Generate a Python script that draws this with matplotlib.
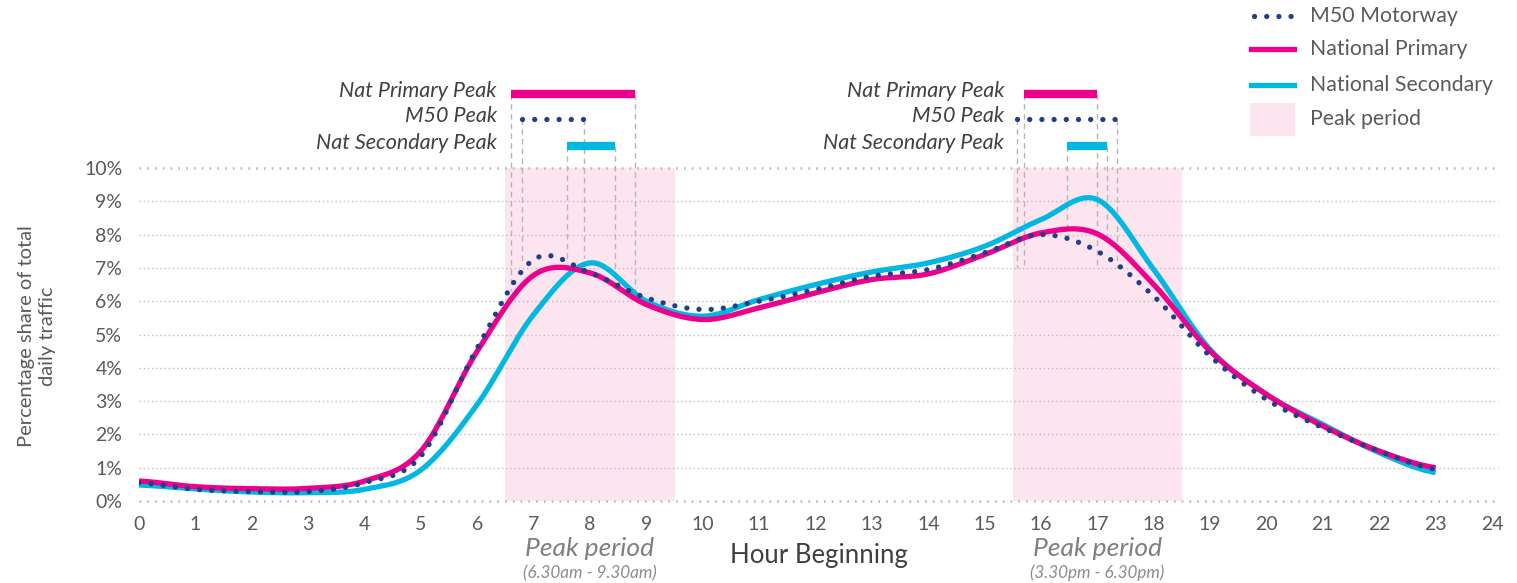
import numpy as np
import matplotlib
matplotlib.use("Agg")
import matplotlib.pyplot as plt
from matplotlib.lines import Line2D
from matplotlib.patches import Rectangle

plt.rcParams['font.family'] = ['Lato', 'DejaVu Sans']

# ---- data -------------------------------------------------------------
hours = list(range(24))

m50 = [0.55, 0.35, 0.28, 0.28, 0.55, 1.35, 4.60, 7.25, 6.85, 6.10, 5.75, 6.00,
       6.35, 6.75, 6.95, 7.45, 8.00, 7.50, 6.15, 4.35, 3.05, 2.20, 1.50, 0.95]
nat_primary = [0.60, 0.43, 0.37, 0.38, 0.60, 1.50, 4.50, 6.78, 6.85, 5.90, 5.45, 5.80,
               6.25, 6.65, 6.82, 7.40, 8.05, 8.02, 6.50, 4.50, 3.20, 2.25, 1.50, 1.00]
nat_secondary = [0.48, 0.36, 0.27, 0.25, 0.35, 0.93, 2.90, 5.60, 7.15, 6.00, 5.55, 6.05,
                 6.50, 6.88, 7.15, 7.65, 8.45, 9.05, 6.95, 4.55, 3.20, 2.30, 1.45, 0.85]

peak_periods = [(6.5, 9.5), (15.5, 18.5)]
peak_period_labels = ["(6.30am - 9.30am)", "(3.30pm - 6.30pm)"]

# peak windows per road class (start hour, end hour), morning and evening
primary_peaks = [(6.60, 8.80), (15.70, 17.00)]
m50_peaks = [(6.80, 7.90), (15.57, 17.34)]
secondary_peaks = [(7.60, 8.45), (16.47, 17.17)]

# lower ends of the guide lines under each peak window (% share)
primary_guides = [(6.3, 6.1), (7.0, 7.0)]
m50_guides = [(7.1, 7.3), (7.0, 7.0)]
secondary_guides = [(7.2, 6.4), (8.0, 8.0)]

peak_names = ["Nat Primary Peak", "M50 Peak", "Nat Secondary Peak"]

y_ticks = list(range(0, 11))
x_ticks = list(range(0, 25))

# ---- style ------------------------------------------------------------
PINK = "#EC008C"
CYAN = "#00B8E2"
NAVY = "#213F87"
SHADE = "#FCE5EF"
GRID = "#BDBDBD"
GUIDE = "#B5B5B5"
TXT = "#5A5A5A"
DARK = "#404040"


def catmull_rom(x, y, n=30):
    x = np.asarray(x, float)
    y = np.asarray(y, float)
    xs, ys = [], []
    for i in range(len(x) - 1):
        p0 = y[i - 1] if i > 0 else y[i]
        p1, p2 = y[i], y[i + 1]
        p3 = y[i + 2] if i + 2 < len(y) else y[i + 1]
        m1 = (p2 - p0) / 2.0
        m2 = (p3 - p1) / 2.0
        t = np.linspace(0, 1, n, endpoint=(i == len(x) - 2))
        h00 = 2 * t**3 - 3 * t**2 + 1
        h10 = t**3 - 2 * t**2 + t
        h01 = -2 * t**3 + 3 * t**2
        h11 = t**3 - t**2
        xs.append(x[i] + t * (x[i + 1] - x[i]))
        ys.append(h00 * p1 + h10 * m1 + h01 * p2 + h11 * m2)
    return np.concatenate(xs), np.concatenate(ys)


W, H = 1517, 583
fig = plt.figure(figsize=(W / 100, H / 100), dpi=100)
ax = fig.add_axes([139 / W, (H - 501) / H, 1353 / W, 333 / H])
ax.set_xlim(0, 24)
ax.set_ylim(0, 10)
for s in ax.spines.values():
    s.set_visible(False)

# peak period shading
for a, b in peak_periods:
    ax.axvspan(a, b, ymin=0, ymax=1, color=SHADE, lw=0, zorder=0)

# gridlines
for v in y_ticks:
    big = v in (0, 10)
    ax.hlines(v, 0, 24.1, colors=GRID, lw=2.0 if big else 1.0,
              linestyles=(0, (0.6, 2.2)) if big else (0, (1, 2)),
              zorder=1, clip_on=False)

ax.tick_params(length=0, labelsize=14, labelcolor=TXT)
ax.tick_params(axis='x', pad=11)
ax.tick_params(axis='y', pad=12)
ax.set_xticks(x_ticks)
ax.set_yticks(y_ticks)
ax.set_yticklabels([f"{v}%" for v in y_ticks])

# series
xs, ys = catmull_rom(hours, nat_secondary)
ax.plot(xs, ys, color=CYAN, lw=3.8, zorder=3, solid_capstyle='butt')
xs, ys = catmull_rom(hours, nat_primary)
ax.plot(xs, ys, color=PINK, lw=3.8, zorder=4, solid_capstyle='butt')
xs, ys = catmull_rom(hours, m50)
ax.plot(xs, ys, color=NAVY, lw=3.8, zorder=5,
        linestyle=(0, (0.01, 2.3)), dash_capstyle='round')

# peak window bars with guide lines
bar_y = [12.22, 11.47, 10.66]
series_peaks = [primary_peaks, m50_peaks, secondary_peaks]
series_guides = [primary_guides, m50_guides, secondary_guides]
label_right = [6.35, 15.35]
for k, (peaks, guides, yb) in enumerate(zip(series_peaks, series_guides, bar_y)):
    for (a, b), (ga, gb) in zip(peaks, guides):
        for xv, gv in ((a, ga), (b, gb)):
            ax.plot([xv, xv], [yb, gv], color=GUIDE, lw=1.0,
                    linestyle=(0, (4, 3)), zorder=2, clip_on=False)
        if k == 1:
            ax.plot([a, b], [yb, yb], color=NAVY, lw=3.8, zorder=6, clip_on=False,
                    linestyle=(0, (0.01, 2.3)), dash_capstyle='round')
        else:
            ax.plot([a, b], [yb, yb], color=PINK if k == 0 else CYAN, lw=6.0,
                    zorder=6, clip_on=False, solid_capstyle='butt')
    for xr in label_right:
        ax.text(xr, yb + 0.08, peak_names[k], ha='right', va='center',
                fontsize=15.5, style='italic', color=DARK, clip_on=False)

# axis titles
fig.text(819 / W, 1 - 556 / H, "Hour Beginning", ha='center', va='center',
         fontsize=18.5, color=DARK)
fig.text(37 / W, 1 - 336 / H, "Percentage share of total\ndaily traffic",
         ha='center', va='center', rotation=90, fontsize=14.5, color=TXT,
         linespacing=1.3)

# peak period captions
for (a, b), sub in zip(peak_periods, peak_period_labels):
    cx = (a + b) / 2
    xfig = (139 + cx * 1353 / 24) / W
    fig.text(xfig, 1 - 548 / H, "Peak period", ha='center', va='center',
             fontsize=19, style='italic', color="#7F7F7F")
    fig.text(xfig, 1 - 573 / H, sub, ha='center', va='center',
             fontsize=12.3, style='italic', color="#8C8C8C")

# legend
def fx(px):
    return px / W


def fy(py):
    return 1 - py / H


leg_items = [("M50 Motorway", 16), ("National Primary", 49),
             ("National Secondary", 85), ("Peak period", 119)]
fig.add_artist(Line2D([fx(1254), fx(1293)], [fy(16), fy(16)], color=NAVY, lw=3.8,
                      linestyle=(0, (0.01, 2.3)), dash_capstyle='round'))
fig.add_artist(Line2D([fx(1251), fx(1294)], [fy(49), fy(49)], color=PINK, lw=3.8))
fig.add_artist(Line2D([fx(1251), fx(1294)], [fy(85), fy(85)], color=CYAN, lw=3.8))
fig.add_artist(Rectangle((fx(1250), fy(136)), fx(45), 33 / H, color=SHADE, lw=0))
for name, py in leg_items:
    fig.text(fx(1310), fy(py), name, ha='left', va='center', fontsize=15.3,
             color=TXT)

fig.savefig("out.png", dpi=100)
